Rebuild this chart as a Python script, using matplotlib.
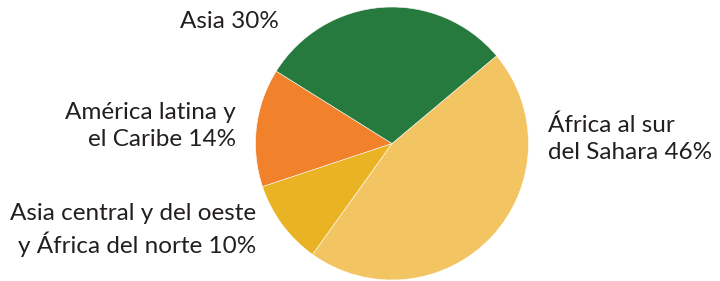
import matplotlib
matplotlib.use("Agg")
import matplotlib.pyplot as plt

# data (clockwise from the upper right)
regions = ["África al sur\ndel Sahara", "Asia central y del oeste\ny África del norte",
           "América latina y\nel Caribe", "Asia"]
shares = [46, 10, 14, 30]
colors = ["#f2c562", "#eab323", "#f2812b", "#267a3e"]

plt.rcParams['font.family'] = ['Lato', 'DejaVu Sans']

W, H = 720, 281
fig = plt.figure(figsize=(W / 100, H / 100), dpi=100)

# pie centre at (392, 143.5) px, radius 136.5 px
cx, cy, r = 392, 143.5, 136.5
ax = fig.add_axes([(cx - r) / W, (H - cy - r) / H, 2 * r / W, 2 * r / H])
ax.pie(shares, colors=colors, startangle=40, counterclock=False, radius=1,
       wedgeprops=dict(linewidth=0.4, edgecolor="white"))
ax.set_xlim(-1, 1)
ax.set_ylim(-1, 1)
ax.set_aspect("equal")
ax.axis("off")

labels = [f"{name} {v}%" for name, v in zip(regions, shares)]
txt = dict(fontsize=17.5, color="#231f20", linespacing=1.33, va="center")
# label anchors in pixels (x, y from top)
fig.text(548 / W, 1 - 139 / H, labels[0], ha="left", multialignment="left", **txt)
fig.text(256 / W, 1 - 230 / H, labels[1], ha="right", multialignment="right", **txt)
fig.text(236 / W, 1 - 126 / H, labels[2], ha="right", multialignment="right", **txt)
fig.text(279 / W, 1 - 22 / H, labels[3], ha="right", **txt)

fig.savefig("out.png", dpi=100)
